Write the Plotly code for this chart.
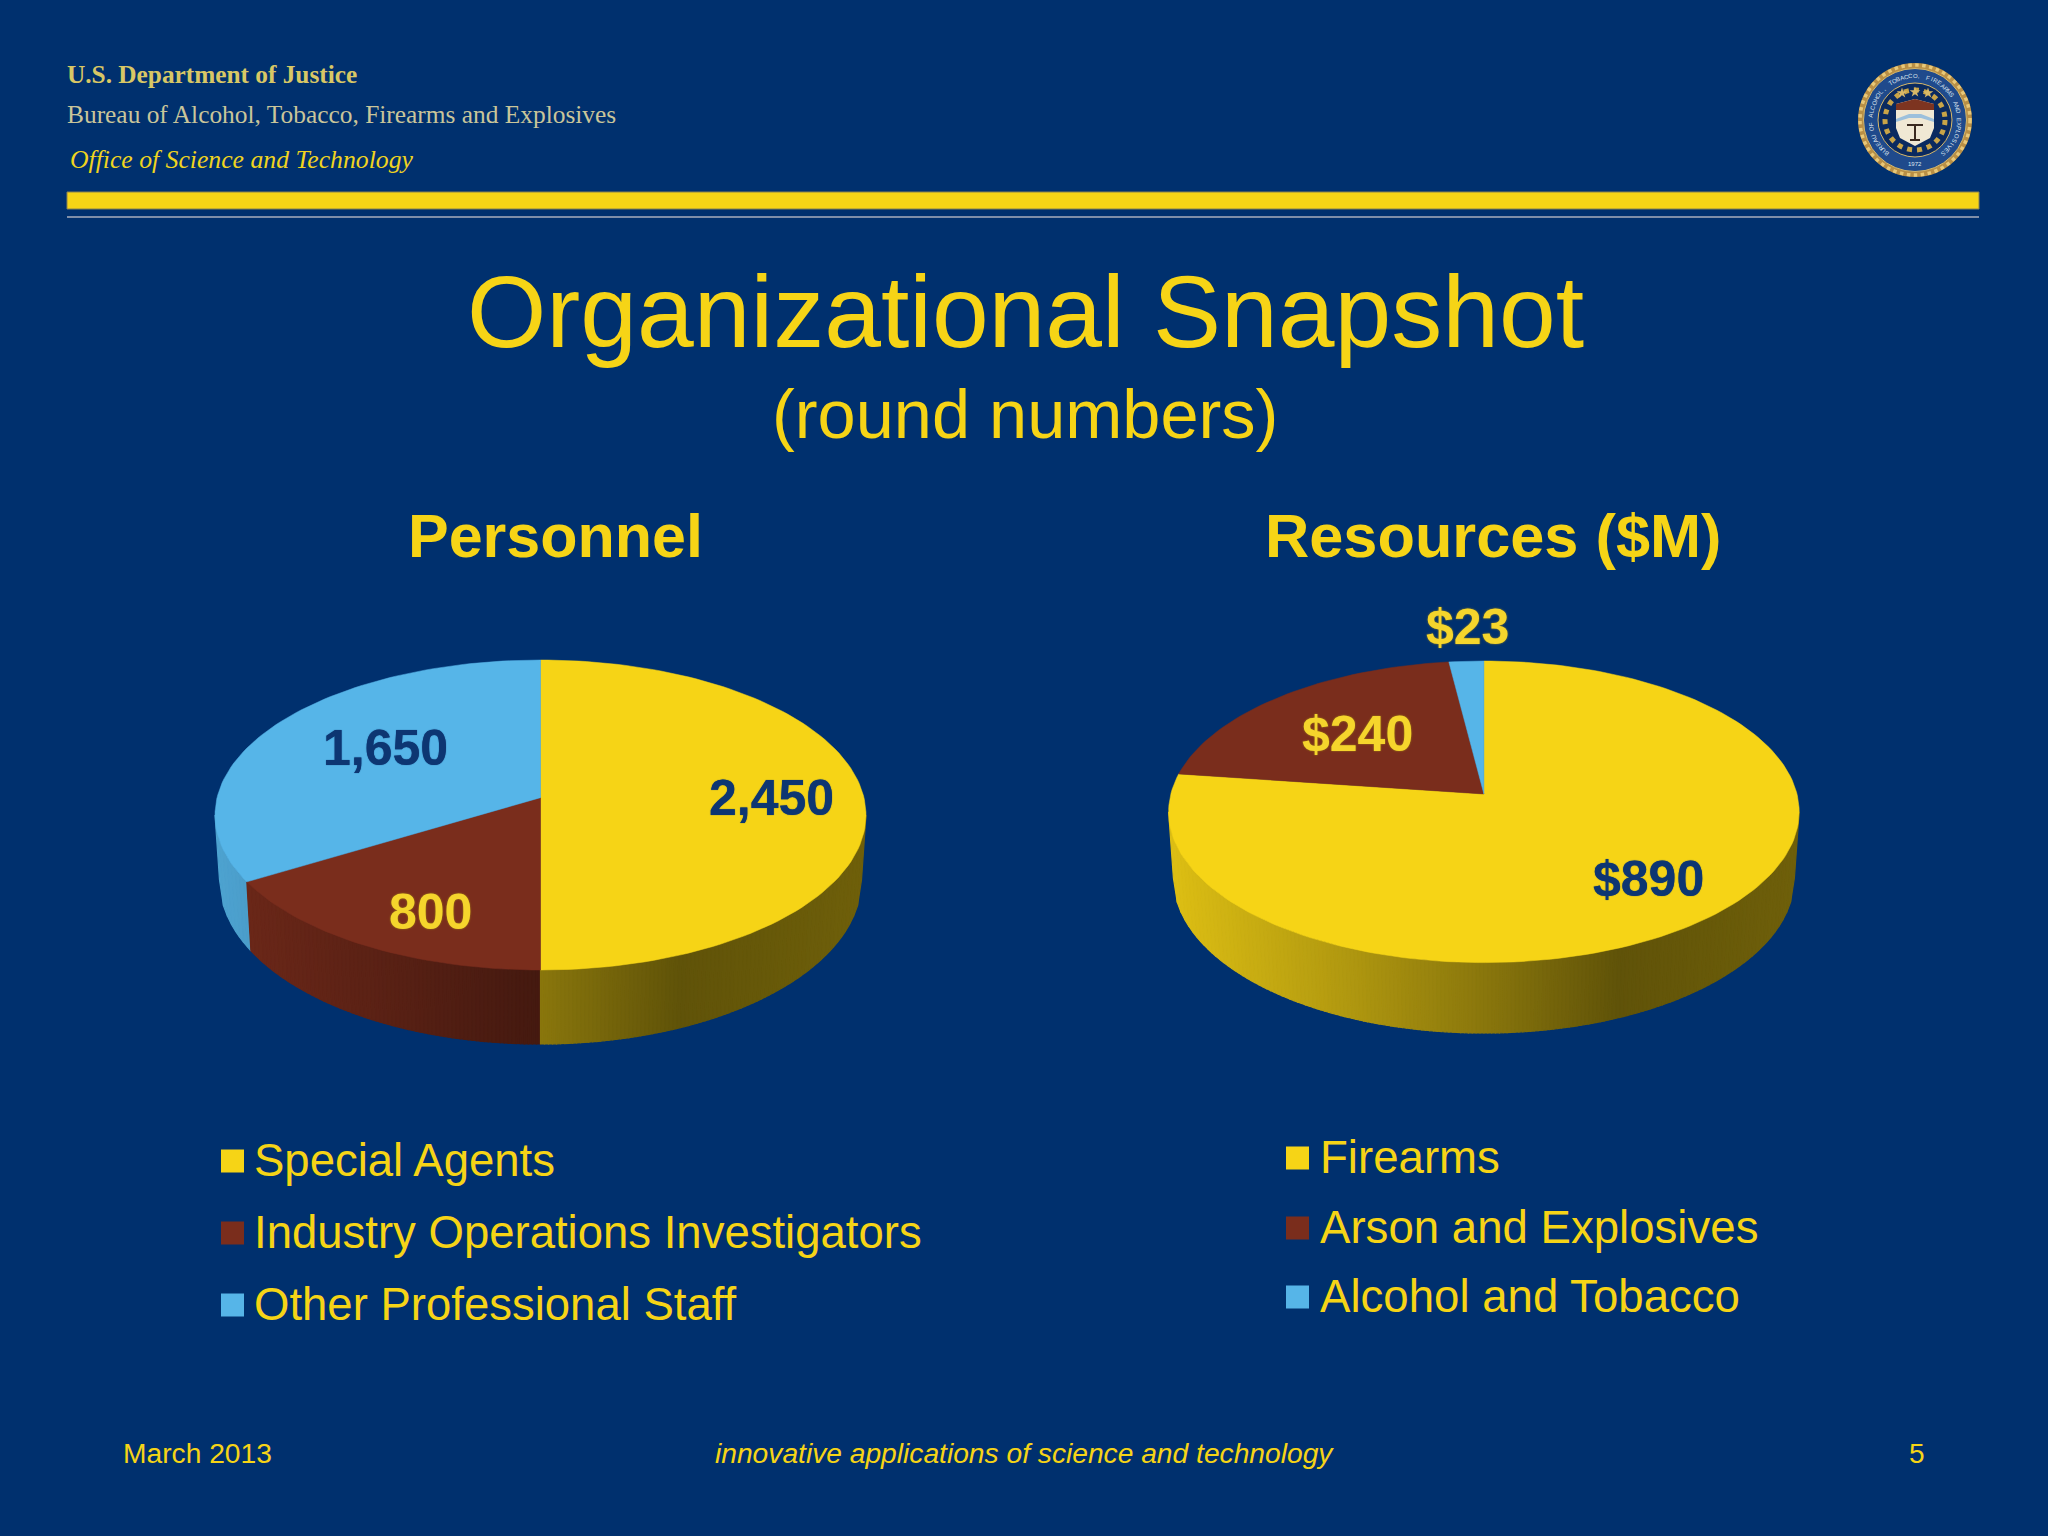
import numpy as np
import plotly.graph_objects as go

# ---------- data ----------
personnel_categories = ["Special Agents", "Industry Operations Investigators", "Other Professional Staff"]
personnel_values = [2450, 800, 1650]
resources_categories = ["Firearms", "Arson and Explosives", "Alcohol and Tobacco"]
resources_values = [890, 240, 23]
header_lines = ["U.S. Department of Justice", "Bureau of Alcohol, Tobacco, Firearms and Explosives",
                "Office of Science and Technology"]
footer_left, footer_mid, footer_right = "March 2013", "innovative applications of science and technology", "5"

# ---------- style ----------
BG = "#00306e"
YELLOW = "#f6d416"
BROWN = "#7a2d1c"
BLUE = "#56b5e8"
NAVY = "#0d3672"
SLICE_COLORS = [YELLOW, BROWN, BLUE]
SANS = "Liberation Sans"
SERIF = "Liberation Serif"
SHADE_T = [-1.0, -0.5, 0.0, 0.43, 1.0]
SHADE_K = [0.90, 0.74, 0.56, 0.39, 0.45]

PIE_L = dict(cx=540.5, cy=815.0, a=325.5, b=155.0, p=0.112, a2=321.0, b2=164.0, cy2=880.0)
PIE_R = dict(cx=1483.9, cy=811.8, a=315.3, b=150.8, p=0.118, a2=310.5, b2=155.0, cy2=878.0)

fig = go.Figure()


def project(g, X, Y):
    """Perspective view of a point of the unit disc onto the top of the pie."""
    X, Y = np.asarray(X, float), np.asarray(Y, float)
    d = 1 + g["p"] * Y
    u = X * np.sqrt(1 - g["p"] ** 2) / d
    v = (Y + g["p"]) / d
    return g["cx"] + g["a"] * u, g["cy"] - g["b"] * v


def hex_rgb(c):
    return [int(c[i:i + 2], 16) for i in (1, 3, 5)]


def shade(c, k):
    r, gg, b = [int(round(v * k)) for v in hex_rgb(c)]
    return f"rgb({r},{gg},{b})"


def poly(xs, ys, color, name=None, lw=0.0):
    fig.add_trace(go.Scatter(x=list(xs), y=list(ys), mode="lines", fill="toself", fillcolor=color,
                             line=dict(color=color, width=lw), name=name or "", showlegend=False,
                             hoverinfo="skip" if name is None else "name"))


def draw_pie(g, values, names):
    total = sum(values)
    edges = np.concatenate([[0.0], np.cumsum(values) / total]) * 2 * np.pi  # clockwise from the top
    # side wall: thin strips, shaded by horizontal position, front half only
    breaks = []
    for e in edges:
        X, Y = np.sin(e), np.cos(e)
        ex, ey = project(g, X, Y)
        if ey > g["cy"]:
            breaks.append((float(ex) - g["cx"]) / g["a"])
    ts = np.unique(np.concatenate([np.linspace(-1, 1, 161), np.clip(breaks, -1, 1)]))

    def slice_at(t):
        # recover the disc angle of the front point at horizontal position t
        v = -np.sqrt(max(1 - t * t, 0))
        Y = (v - g["p"]) / (1 - g["p"] * v)
        X = t * (1 + g["p"] * Y) / np.sqrt(1 - g["p"] ** 2)
        ang = np.arctan2(X, Y) % (2 * np.pi)
        return int(np.clip(np.searchsorted(edges, ang) - 1, 0, len(values) - 1))

    for t0, t1 in zip(ts[:-1], ts[1:]):
        tm = (t0 + t1) / 2
        k = np.interp(tm, SHADE_T, SHADE_K)
        col = shade(SLICE_COLORS[slice_at(tm)], k)
        s0, s1 = np.sqrt(max(1 - t0 ** 2, 0)), np.sqrt(max(1 - t1 ** 2, 0))
        xs = [g["cx"] + g["a"] * t0, g["cx"] + g["a"] * t1, g["cx"] + g["a2"] * t1, g["cx"] + g["a2"] * t0]
        ys = [g["cy"] + g["b"] * s0, g["cy"] + g["b"] * s1, g["cy2"] + g["b2"] * s1, g["cy2"] + g["b2"] * s0]
        poly(xs + xs[:1], ys + ys[:1], col, lw=1.2)
    # top faces
    for i, (v, nm) in enumerate(zip(values, names)):
        th = np.linspace(edges[i], edges[i + 1], max(int(v / total * 240), 8))
        ex, ey = project(g, np.sin(th), np.cos(th))
        ax, ay = project(g, 0.0, 0.0)
        poly(np.r_[ax, ex, ax], np.r_[ay, ey, ay], SLICE_COLORS[i], name=f"{nm}: {v:,}", lw=0.5)
    return edges


def label_xy(g, edges, i, radius, shift_deg):
    ang = (edges[i] + edges[i + 1]) / 2 + np.radians(shift_deg)
    x, y = project(g, radius * np.sin(ang), radius * np.cos(ang))
    return float(x), float(y)


def text(x, y, s, size, color, family=SANS, anchor="center", shadow=None, **extra):
    font = dict(family=family, size=size, color=color)
    if shadow:
        font["shadow"] = shadow
    fig.add_annotation(x=x, y=y, xref="x", yref="y", text=s, showarrow=False, xanchor=anchor,
                       yanchor="middle", font=font, **extra)


# ---------- pies ----------
edges_l = draw_pie(PIE_L, personnel_values, personnel_categories)
edges_r = draw_pie(PIE_R, resources_values, resources_categories)

GOLD_EDGE = "0 0 2px #a88f18"
NAVY_EDGE = "0 0 1px #0d3672"
LABEL_YELLOW = "#f5d52c"
lab_l = [(0.715, 0.0, NAVY, NAVY_EDGE), (0.758, -4.9, LABEL_YELLOW, GOLD_EDGE), (0.60, 4.6, NAVY, NAVY_EDGE)]
for i, (r, sh, c, sd) in enumerate(lab_l):
    x, y = label_xy(PIE_L, edges_l, i, r, sh)
    text(x, y, f"<b>{personnel_values[i]:,}</b>", 50, c, shadow=sd)
lab_r = [(0.73, -1.5, NAVY, NAVY_EDGE), (0.6, -0.5, LABEL_YELLOW, GOLD_EDGE), (1.30, 1.0, LABEL_YELLOW, GOLD_EDGE)]
for i, (r, sh, c, sd) in enumerate(lab_r):
    x, y = label_xy(PIE_R, edges_r, i, r, sh)
    text(x, y, f"<b>${resources_values[i]:,}</b>", 50, c, shadow=sd)

# ---------- legends ----------
for cats, sx, tx, ys, sz in [(personnel_categories, 232.5, 252, [1161, 1233, 1305], 45.5),
                             (resources_categories, 1297.5, 1318, [1158, 1228, 1297], 45.6)]:
    fig.add_trace(go.Scatter(x=[sx] * 3, y=ys, mode="markers", showlegend=False, hoverinfo="skip",
                             marker=dict(symbol="square", size=23, color=SLICE_COLORS, line=dict(width=0))))
    for c, y in zip(cats, ys):
        text(tx, y - 1, c, sz, YELLOW, anchor="left")

# ---------- titles ----------
text(1025, 312, "Organizational Snapshot", 102, YELLOW)
text(1025, 414, "(round numbers)", 68.5, YELLOW)
text(555, 536, "<b>Personnel</b>", 61, YELLOW)
text(1493, 536, "<b>Resources ($M)</b>", 61.3, YELLOW)

# ---------- header ----------
text(64.5, 74, f"<b>{header_lines[0]}</b>", 25.3, "#d8c765", SERIF, "left")
text(64.5, 114, header_lines[1], 25.4, "#c9c59a", SERIF, "left")
text(68, 159, f"<i>{header_lines[2]}</i>", 25.7, "#f0d41e", SERIF, "left")
shapes = [
    dict(type="rect", x0=67, x1=1979, y0=192, y1=209, fillcolor=YELLOW, line=dict(color="#8a8250", width=1), layer="below"),
    dict(type="line", x0=67, x1=1979, y0=217, y1=217, line=dict(color="#7f8ea8", width=2), layer="below"),
]

# ---------- seal ----------
SX, SY = 1915.0, 120.0
def ring(r, fill, line="rgba(0,0,0,0)", w=0, dash="solid"):
    shapes.append(dict(type="circle", x0=SX - r, x1=SX + r, y0=SY - r, y1=SY + r, fillcolor=fill,
                       line=dict(color=line, width=w, dash=dash), layer="below"))
ring(57, "#b98f45")
ring(55, "rgba(0,0,0,0)", "#e8c878", 3.5, "dot")
ring(51.5, "#1f4a8c", "#d8b868", 1)
ring(37, "#0a2a60", "#d8b868", 1)
ring(30, "rgba(0,0,0,0)", "#c9a447", 5, "dot")
fig.update_layout(shapes=shapes)

# shield
poly([SX - 19, SX, SX + 19, SX + 19, SX + 15, SX, SX - 15, SX - 19, SX - 19],
     [SY - 16, SY - 21, SY - 16, SY + 8, SY + 18, SY + 26, SY + 18, SY + 8, SY - 16], "#f0e8d4")
poly([SX - 19, SX, SX + 19, SX + 19, SX - 19, SX - 19],
     [SY - 16, SY - 21, SY - 16, SY - 10, SY - 10, SY - 16], "#7d3420")
poly([SX - 19, SX - 6, SX + 6, SX + 19, SX + 19, SX + 6, SX - 6, SX - 19, SX - 19],
     [SY - 1, SY - 6, SY - 6, SY - 1, SY + 2, SY - 2, SY - 2, SY + 2, SY - 1], "#9cc0dc")
fig.add_trace(go.Scatter(x=[SX - 8, SX + 8, None, SX, SX, None, SX - 5, SX + 5],
                         y=[SY + 5, SY + 5, None, SY + 4, SY + 20, None, SY + 20, SY + 20],
                         mode="lines", line=dict(color="#3a2a20", width=2), showlegend=False, hoverinfo="skip"))
fig.add_trace(go.Scatter(x=[SX - 13, SX, SX + 13], y=[SY - 27, SY - 28, SY - 27], mode="markers",
                         marker=dict(symbol="star", size=8, color="#d8b868", line=dict(width=0)),
                         showlegend=False, hoverinfo="skip"))
ring_text = "BUREAU OF ALCOHOL, TOBACCO, FIREARMS AND EXPLOSIVES"
for ch, ang in zip(ring_text, np.linspace(-140, 140, len(ring_text))):
    a = np.radians(ang)
    fig.add_annotation(x=SX + 44 * np.sin(a), y=SY - 44 * np.cos(a), text=ch, showarrow=False, textangle=float(ang),
                       xref="x", yref="y", font=dict(family=SANS, size=6, color="#dfe6ef"))
fig.add_annotation(x=SX, y=SY + 44, text="1972", showarrow=False, xref="x", yref="y",
                   font=dict(family=SANS, size=6, color="#dfe6ef"))

# ---------- footer ----------
text(120.5, 1453, footer_left, 28.2, YELLOW, anchor="left")
text(1024, 1453, f"<i>{footer_mid}</i>", 28.2, YELLOW)
text(1917, 1453, footer_right, 28, YELLOW)

fig.update_layout(
    width=2048, height=1536, margin=dict(l=0, r=0, t=0, b=0), paper_bgcolor=BG, plot_bgcolor=BG,
    showlegend=False,
    xaxis=dict(range=[0, 2048], visible=False, fixedrange=True),
    yaxis=dict(range=[1536, 0], visible=False, fixedrange=True),
)
fig.write_html("out.html", config={"displayModeBar": False},
               post_script="document.body.style.margin='0';document.body.style.background='#00306e';")
